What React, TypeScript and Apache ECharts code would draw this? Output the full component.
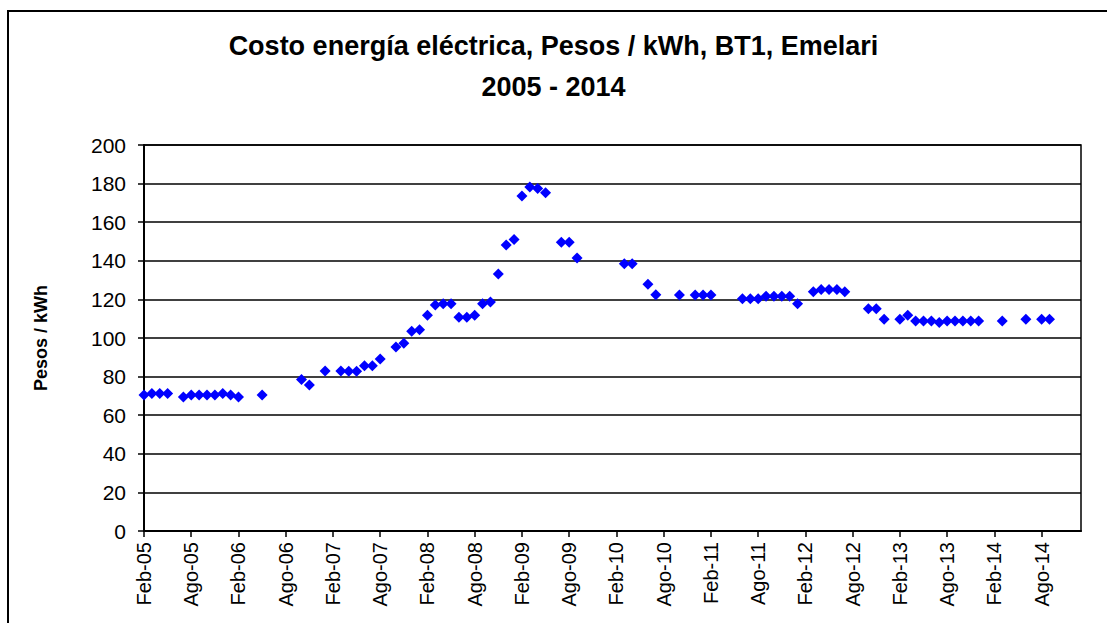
import React, { useEffect, useRef } from "react";
import * as echarts from "echarts";

const TITLE_LINE_1 = "Costo energía eléctrica, Pesos / kWh, BT1, Emelari";
const TITLE_LINE_2 = "2005 - 2014";
const Y_NAME = "Pesos / kWh";

const MONTHS = ["Ene", "Feb", "Mar", "Abr", "May", "Jun", "Jul", "Ago", "Sep", "Oct", "Nov", "Dic"];
const YEARS = ["05", "06", "07", "08", "09", "10", "11", "12", "13", "14", "15"];

// Category axis: Feb-05 .. Ene-15
const categories: string[] = [];
YEARS.forEach((yy, yi) => {
  MONTHS.forEach((mm, mi) => {
    if (yi === 0 && mi < 1) return;
    if (yy === "15" && mi > 0) return;
    categories.push(`${mm}-${yy}`);
  });
});

const pointDates = [
  "Feb-05", "Mar-05", "Abr-05", "May-05", "Jul-05", "Ago-05", "Sep-05", "Oct-05", "Nov-05", "Dic-05", "Ene-06", "Feb-06",
  "May-06", "Oct-06", "Nov-06", "Ene-07", "Mar-07", "Abr-07", "May-07", "Jun-07", "Jul-07", "Ago-07",
  "Oct-07", "Nov-07", "Dic-07", "Ene-08", "Feb-08", "Mar-08", "Abr-08", "May-08", "Jun-08", "Jul-08", "Ago-08",
  "Sep-08", "Oct-08", "Nov-08", "Dic-08", "Ene-09", "Feb-09", "Mar-09", "Abr-09", "May-09", "Jul-09", "Ago-09",
  "Sep-09", "Mar-10", "Abr-10", "Jun-10", "Jul-10", "Oct-10", "Dic-10", "Ene-11", "Feb-11", "Jun-11", "Jul-11",
  "Ago-11", "Sep-11", "Oct-11", "Nov-11", "Dic-11", "Ene-12", "Mar-12", "Abr-12", "May-12", "Jun-12", "Jul-12",
  "Oct-12", "Nov-12", "Dic-12", "Feb-13", "Mar-13", "Abr-13", "May-13", "Jun-13", "Jul-13", "Ago-13", "Sep-13",
  "Oct-13", "Nov-13", "Dic-13", "Mar-14", "Jun-14", "Ago-14", "Sep-14",
];

const pointValues = [
  70.5, 71.2, 71.3, 71.2, 69.4, 70.5, 70.5, 70.5, 70.5, 71.3, 70.5, 69.4,
  70.5, 78.5, 75.6, 82.9, 82.9, 82.8, 82.8, 85.6, 85.6, 89.1,
  95.3, 97.3, 103.5, 104.3, 111.8, 117.1, 117.8, 117.8, 110.7, 110.7, 111.8,
  117.8, 118.7, 133.2, 148.2, 151.0, 173.6, 178.2, 177.4, 175.3, 149.6, 149.6,
  141.5, 138.5, 138.5, 127.8, 122.4, 122.3, 122.3, 122.3, 122.3, 120.4, 120.4,
  120.4, 121.6, 121.6, 121.6, 121.6, 117.8, 124.0, 125.1, 125.1, 125.1, 124.0,
  115.2, 115.2, 109.7, 109.7, 111.8, 108.8, 108.8, 108.8, 108.0, 108.8, 108.8,
  108.8, 108.8, 108.8, 108.8, 109.7, 109.7, 109.7,
];

const FONT = "'Liberation Sans', Arial, sans-serif";

export default function App() {
  const ref = useRef<HTMLDivElement>(null);
  useEffect(() => {
    if (!ref.current) return;
    const chart = echarts.init(ref.current, null, { renderer: "svg" });
    chart.setOption({
      animation: false,
      backgroundColor: "#fff",
      textStyle: { fontFamily: FONT },
      title: {
        text: `${TITLE_LINE_1}\n${TITLE_LINE_2}`,
        left: "center",
        top: 20,
        textStyle: {
          fontFamily: FONT,
          fontSize: 27,
          fontWeight: "bold",
          color: "#000",
          lineHeight: 41,
        },
      },
      graphic: [
        {
          type: "rect",
          shape: { x: 8, y: 11, width: 1110, height: 630 },
          style: { fill: "none", stroke: "#000", lineWidth: 2 },
          silent: true,
          z: 100,
        },
      ],
      grid: {
        left: 144,
        right: 26,
        top: 145,
        bottom: 92,
        show: true,
        borderColor: "#000",
        borderWidth: 1.5,
      },
      xAxis: {
        type: "category",
        data: categories,
        boundaryGap: false,
        axisLine: { show: true, lineStyle: { color: "#000", width: 2 } },
        axisTick: { show: true, interval: 5, length: 6, lineStyle: { color: "#000", width: 1.5 } },
        axisLabel: {
          interval: 5,
          rotate: 90,
          margin: 11,
          fontFamily: FONT,
          fontSize: 20,
          color: "#000",
        },
        splitLine: { show: false },
      },
      yAxis: {
        type: "value",
        min: 0,
        max: 200,
        interval: 20,
        name: Y_NAME,
        nameLocation: "middle",
        nameRotate: 90,
        nameGap: 94,
        nameTextStyle: { fontFamily: FONT, fontSize: 18, fontWeight: "bold", color: "#000" },
        axisLine: { show: true, lineStyle: { color: "#000", width: 2 } },
        axisTick: { show: true, length: 6, lineStyle: { color: "#000", width: 1.5 } },
        axisLabel: { margin: 18, fontFamily: FONT, fontSize: 21, color: "#000" },
        splitLine: { show: true, lineStyle: { color: "#000", width: 1.5 } },
      },
      series: [
        {
          type: "scatter",
          symbol: "diamond",
          symbolSize: 11,
          itemStyle: { color: "#0000FF", opacity: 1 },
          data: pointDates.map((d, i) => [d, pointValues[i]]),
        },
      ],
    });
    return () => chart.dispose();
  }, []);
  return (
    <div
      ref={ref}
      style={{ position: "fixed", left: 0, top: 0, width: 1107, height: 623, background: "#fff" }}
    />
  );
}
